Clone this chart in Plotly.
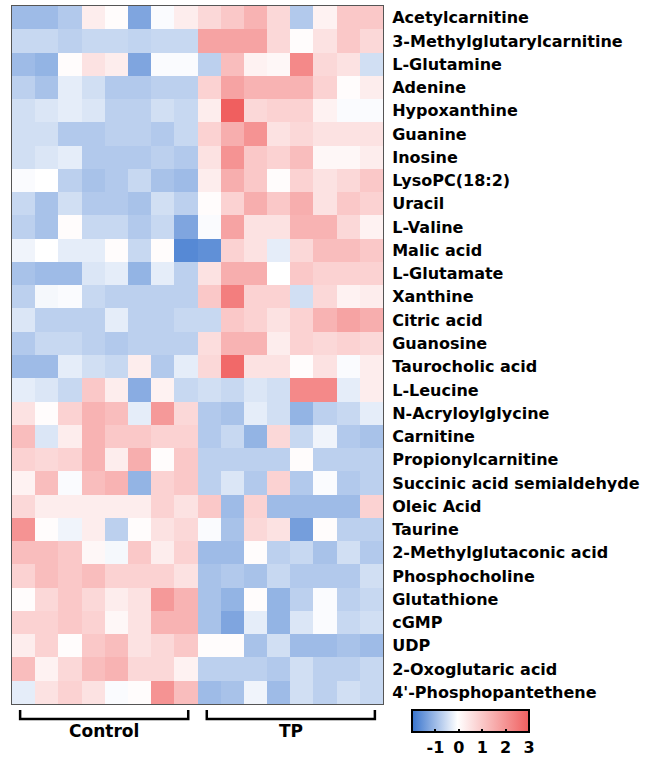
import plotly.graph_objects as go

metabolites = [
    "Acetylcarnitine", "3-Methylglutarylcarnitine", "L-Glutamine", "Adenine",
    "Hypoxanthine", "Guanine", "Inosine", "LysoPC(18:2)", "Uracil", "L-Valine",
    "Malic acid", "L-Glutamate", "Xanthine", "Citric acid", "Guanosine",
    "Taurocholic acid", "L-Leucine", "N-Acryloylglycine", "Carnitine",
    "Propionylcarnitine", "Succinic acid semialdehyde", "Oleic Acid", "Taurine",
    "2-Methylglutaconic acid", "Phosphocholine", "Glutathione", "cGMP", "UDP",
    "2-Oxoglutaric acid", "4'-Phosphopantethene",
]

control_samples = ["C1", "C2", "C3", "C4", "C5", "C6", "C7", "C8"]
tp_samples = ["TP1", "TP2", "TP3", "TP4", "TP5", "TP6", "TP7", "TP8"]

control_values = [
    [-1.0, -1.0, -0.8, 0.3, 0.0, -1.3, -0.1, 0.3],
    [-0.6, -0.6, -0.7, -0.6, -0.6, -0.65, -0.6, -0.6],
    [-1.0, -1.1, 0.0, 0.5, 0.3, -1.3, -0.1, -0.1],
    [-0.7, -0.9, -0.3, -0.5, -0.8, -0.8, -0.7, -0.7],
    [-0.5, -0.4, -0.3, -0.4, -0.7, -0.7, -0.5, -0.6],
    [-0.5, -0.5, -0.8, -0.8, -0.7, -0.7, -0.8, -0.6],
    [-0.5, -0.4, -0.3, -0.8, -0.8, -0.8, -0.7, -0.8],
    [-0.1, -0.05, -0.7, -0.9, -0.8, -0.6, -0.9, -1.0],
    [-0.6, -0.9, -0.5, -0.8, -0.8, -0.9, -0.5, -0.7],
    [-0.7, -0.9, 0.0, -0.6, -0.6, -0.8, -0.6, -1.3],
    [-0.2, -0.05, -0.3, -0.3, 0.0, -0.6, 0.0, -1.7],
    [-0.9, -1.0, -1.0, -0.4, -0.3, -1.1, -0.3, -0.7],
    [-0.7, -0.15, -0.1, -0.6, -0.7, -0.7, -0.7, -0.7],
    [-0.4, -0.7, -0.7, -0.7, -0.3, -0.7, -0.7, -0.6],
    [-0.8, -0.6, -0.6, -0.7, -0.8, -0.7, -0.7, -0.7],
    [-1.0, -1.0, -0.3, -0.5, -0.6, 0.3, -0.8, -0.3],
    [-0.3, -0.4, -0.6, 1.0, 0.3, -1.2, 0.2, -0.6],
    [0.5, 0.0, 0.8, 1.4, 1.2, -0.3, 1.9, 0.7],
    [1.2, -0.4, 0.3, 1.4, 1.0, 1.0, 0.8, 0.8],
    [0.8, 0.7, 0.8, 1.4, 0.3, 1.5, 0.0, 1.0],
    [0.2, 1.2, -0.1, 1.2, 1.4, -1.1, 0.8, 1.0],
    [0.7, 0.3, 0.3, 0.3, 0.3, 0.3, 0.8, 0.5],
    [2.0, 0.0, -0.2, 0.3, -0.7, 0.0, 0.5, 0.7],
    [1.2, 1.2, 1.0, 0.1, -0.15, 1.0, 0.3, 0.8],
    [0.8, 1.2, 1.0, 1.2, 0.8, 0.8, 0.8, 0.5],
    [0.0, 0.7, 1.0, 0.7, 0.3, 0.5, 1.9, 1.4],
    [0.8, 0.8, 1.0, 0.8, 0.1, 0.5, 1.4, 1.4],
    [0.3, 0.8, 0.0, 1.0, 1.2, 0.5, 0.7, 1.0],
    [1.2, 0.2, 0.7, 1.2, 1.4, 0.7, 0.7, 0.2],
    [-0.3, 0.5, 0.8, 0.5, -0.1, 0.0, 2.0, 1.2],
]

tp_values = [
    [0.7, 1.0, 1.4, 0.7, -0.8, 0.2, 1.0, 1.0],
    [1.7, 1.7, 1.7, 0.7, 0.0, 0.5, 1.0, 0.7],
    [-0.7, 1.2, 0.2, 0.1, 2.2, 0.7, 0.5, -0.5],
    [0.8, 1.7, 1.4, 1.4, 1.4, 0.8, 0.0, 0.3],
    [0.3, 3.0, 0.7, 0.8, 0.8, 0.2, -0.1, -0.1],
    [0.8, 1.5, 2.0, 0.5, 0.7, 0.5, 0.5, 0.5],
    [0.5, 2.0, 1.0, 0.8, 1.2, 0.1, 0.1, 0.3],
    [0.3, 1.5, 1.0, 0.0, 0.8, 0.5, 0.7, 1.0],
    [0.0, 0.8, 1.5, 1.0, 1.5, 0.5, 1.0, 0.8],
    [-0.1, 1.7, 0.5, 0.5, 1.4, 1.4, 0.7, 0.2],
    [-1.6, 0.8, 0.5, -0.3, 0.7, 1.2, 1.2, 1.0],
    [0.5, 1.5, 1.5, -0.05, 1.0, 0.8, 0.8, 0.8],
    [1.0, 2.4, 0.8, 0.8, -0.5, 0.7, 0.2, 0.3],
    [-0.6, 1.0, 0.8, 0.5, 0.8, 1.4, 1.7, 1.5],
    [0.6, 1.4, 1.4, 0.3, 0.8, 0.7, 0.8, 0.7],
    [0.7, 2.8, 0.5, 0.5, 0.0, 0.5, -0.1, 0.3],
    [-0.5, -0.6, -0.4, -0.5, 2.2, 2.2, -0.3, 0.3],
    [-0.8, -0.9, -0.3, -0.5, -1.1, -0.7, -0.6, -0.3],
    [-0.8, -0.6, -1.1, 0.7, -0.6, -0.2, -0.8, -0.9],
    [-0.7, -0.7, -0.7, -0.7, 0.0, -0.7, -0.7, -0.7],
    [-0.7, -0.4, -0.8, 0.8, -0.8, -0.1, -0.8, -0.7],
    [1.0, -1.0, 0.8, -1.0, -1.0, -1.0, -1.0, 0.8],
    [-0.1, -0.9, 0.7, 0.5, -1.4, 0.0, -0.7, -0.7],
    [-1.0, -1.0, 0.0, -0.7, -0.6, -0.9, -0.5, -0.8],
    [-0.9, -0.8, -0.9, -0.6, -0.8, -0.8, -0.8, -0.5],
    [-0.9, -1.1, 0.0, -1.1, -0.7, -0.1, -0.7, -0.6],
    [-0.9, -1.3, -0.3, -1.1, -0.4, -0.1, -0.6, -0.5],
    [0.0, 0.0, -0.9, -0.5, -1.0, -1.0, -0.9, -1.0],
    [-0.7, -0.7, -0.7, -0.8, -0.5, -0.7, -0.7, -0.6],
    [-1.0, -0.9, -0.2, -1.0, -0.5, -0.7, -0.5, -0.6],
]

colorbar_ticks = [-1, 0, 1, 2, 3]
colorbar_ticktext = ["-1", "0", "1", "2", "3"]
z_min, z_max = -2, 3

samples = control_samples + tp_samples
z = [c + t for c, t in zip(control_values, tp_values)]

FONT = "DejaVu Sans"
W, H = 664, 762
ML, MR, MT, MB = 12, 281, 6, 58
PW, PH = W - ML - MR, H - MT - MB

fig = go.Figure()

# colorbar geometry (pixels)
cb_left, cb_len, cb_top, cb_thick = 412, 117, 710, 22
cb_x = (cb_left + cb_len / 2 - ML) / PW
cb_y = (MT + PH - cb_top) / PH

fig.add_trace(go.Heatmap(
    z=z, x=samples, y=metabolites,
    zmin=z_min, zmax=z_max,
    colorscale=[[0.0, "rgb(55,115,205)"], [0.39, "rgb(255,255,255)"],
                [1.0, "rgb(240,95,95)"]],
    xgap=0, ygap=0,
    colorbar=dict(
        orientation="h", x=cb_x, xanchor="center", y=cb_y, yanchor="top",
        len=cb_len, lenmode="pixels", thickness=cb_thick,
        outlinewidth=2, outlinecolor="black",
        tickvals=colorbar_ticks, ticktext=colorbar_ticktext,
        ticks="inside", ticklen=4, tickwidth=1.5, tickcolor="black",
        tickfont=dict(family=FONT, size=16, color="black", weight="bold"),
        xpad=0, ypad=0,
    ),
))

shapes = []
# top-edge ticks on the colour bar
for v in colorbar_ticks:
    px = cb_left + (v - z_min) / (z_max - z_min) * cb_len
    xp = (px - ML) / PW
    shapes.append(dict(type="line", xref="paper", yref="paper",
                       x0=xp, x1=xp,
                       y0=(MT + PH - cb_top) / PH,
                       y1=(MT + PH - cb_top - 4) / PH,
                       line=dict(color="black", width=1.5)))


def ypx(p):
    return (MT + PH - p) / PH


groups = [("Control", -0.15, 7.1), ("TP", 7.9, 15.15)]
annotations = []
for name, a, b in groups:
    path = f"M {a},{ypx(710)} L {a},{ypx(719)} L {b},{ypx(719)} L {b},{ypx(710)}"
    shapes.append(dict(type="path", xref="x", yref="paper", path=path,
                       line=dict(color="black", width=2.5)))
    annotations.append(dict(x=(a + b) / 2, y=ypx(731), xref="x", yref="paper",
                            text=name, showarrow=False, xanchor="center",
                            yanchor="middle",
                            font=dict(family=FONT, size=17, color="black",
                                      weight="bold")))

fig.update_layout(
    width=W, height=H,
    margin=dict(l=ML, r=MR, t=MT, b=MB, autoexpand=False),
    paper_bgcolor="white", plot_bgcolor="white",
    shapes=shapes, annotations=annotations,
    xaxis=dict(showticklabels=False, ticks="", showgrid=False, zeroline=False,
               showline=True, mirror=True, linecolor="#555555", linewidth=1,
               automargin=False),
    yaxis=dict(side="right", autorange="reversed", ticks="", showgrid=False,
               zeroline=False, showline=True, mirror=True, automargin=False,
               linecolor="#555555", linewidth=1, ticklabelstandoff=5,
               tickfont=dict(family=FONT, size=16, color="black",
                             weight="bold")),
)

fig.write_html(
    "out.html",
    config={"displayModeBar": False},
    post_script="document.body.style.margin='0';document.body.style.overflow='hidden';",
)
